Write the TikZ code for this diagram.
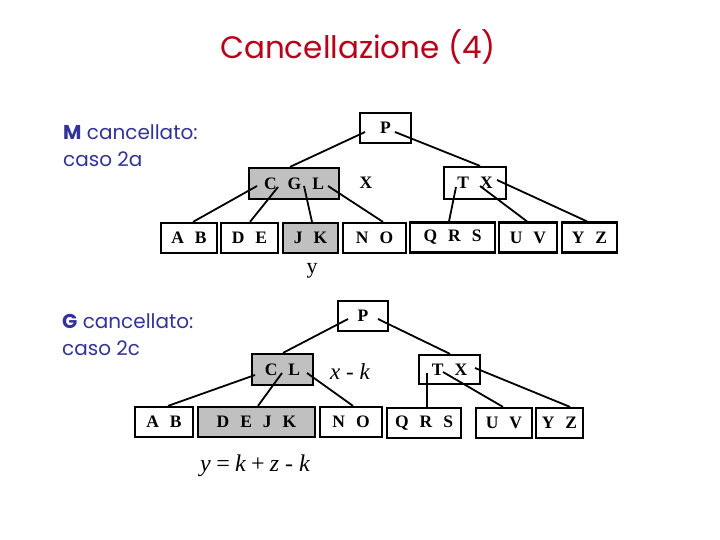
\documentclass[tikz,border=0pt]{standalone}
\usepackage{fontspec}
\setmainfont{Liberation Serif}
\newfontfamily\comic{Poppins}
\usetikzlibrary{calc}
\definecolor{titlered}{RGB}{185,0,25}
\definecolor{navy}{RGB}{51,51,153}
\definecolor{boxgray}{RGB}{192,192,192}
\newcommand{\gp}{\hspace{11pt}}
\begin{document}
\begin{tikzpicture}[x=1pt,y=-1pt,
  key/.style={draw,line width=2.2pt,minimum height=30pt,inner sep=0pt,font=\fontsize{17.5}{17.5}\selectfont\bfseries},
  hl/.style={key,fill=boxgray},
  edge/.style={line width=1.8pt},
  note/.style={font=\comic\fontsize{20}{27}\selectfont,text=navy,align=left,anchor=north west,inner sep=0pt},
  lbl/.style={inner sep=0pt}]
\useasboundingbox (0,0) rectangle (720,540);
\fill[white] (0,0) rectangle (720,540);

% title and notes
\node[lbl,font=\comic\fontsize{31}{34}\selectfont,text=titlered] (title) at (358,47) {Cancellazione (4)};
\node[note] (n1) at (63,125) {{\bfseries M} cancellato:\\caso 2a};
\node[note] (n2) at (62,313) {{\bfseries G} cancellato:\\caso 2c};

% top tree
\node[key,minimum width=51pt] (P) at (385.5,128) {P};
\node[hl,minimum width=90pt,minimum height=31pt] (CGL) at (294,183.5) {C\gp G\gp L};
\node[key,minimum width=62pt,minimum height=32pt] (TX) at (475,183) {T\gp X};
\node[key,minimum width=56pt] (AB) at (189,238) {A\gp B};
\node[key,minimum width=57pt] (DE) at (249.5,238) {D\gp E};
\node[hl,minimum width=55pt] (JK) at (310.5,238) {J\gp K};
\node[key,minimum width=63pt] (NO) at (374.5,238) {N\gp O};
\node[key,minimum width=85pt] (QRS) at (452.5,237.5) {Q\gp R\gp S};
\node[key,minimum width=58pt] (UV) at (528,237.5) {U\gp V};
\node[key,minimum width=55pt] (YZ) at (589.5,237.5) {Y\gp Z};
\node[lbl,font=\fontsize{17.5}{17.5}\selectfont\bfseries] (xl) at (366,183) {X};
\node[lbl,font=\fontsize{22}{22}\selectfont] (yl) at (312,271) {y};

\draw[edge] ([shift={(-20.5,4)}]P.center) -- ([xshift=-4pt]CGL.north);
\draw[edge] ([shift={(9.5,4)}]P.center) -- ([xshift=5pt]TX.north);
\draw[edge] ([shift={(-37,2.5)}]CGL.center) -- ([xshift=4pt]AB.north);
\draw[edge] ([shift={(-16,3.5)}]CGL.center) -- ([xshift=0.5pt]DE.north);
\draw[edge] ([shift={(10,2.5)}]CGL.center) -- ([xshift=1.5pt]JK.north);
\draw[edge] ([shift={(34,2.5)}]CGL.center) -- ([xshift=8.5pt]NO.north);
\draw[edge] ([shift={(-19,4)}]TX.center) -- ([xshift=-3.5pt]QRS.north);
\draw[edge] ([shift={(5,3)}]TX.center) -- ([xshift=-1pt]UV.north);
\draw[edge] ([shift={(22,-3)}]TX.center) -- ([xshift=-2.5pt]YZ.north);

% bottom tree
\node[key,minimum width=50pt] (P2) at (363,316) {P};
\node[hl,minimum width=61pt,minimum height=31pt] (CL) at (282.5,369.5) {C\gp L};
\node[key,minimum width=61pt,minimum height=29pt] (TX2) at (449.5,369.5) {T\gp X};
\node[key,minimum width=58pt] (AB2) at (164,422) {A\gp B};
\node[hl,minimum width=117pt] (DEJK) at (256.5,422) {D\gp E\gp J\gp K};
\node[key,minimum width=62pt] (NO2) at (351,422) {N\gp O};
\node[key,minimum width=74pt] (QRS2) at (424,423) {Q\gp R\gp S};
\node[key,minimum width=56pt] (UV2) at (504,423) {U\gp V};
\node[key,minimum width=47pt] (YZ2) at (559.5,423) {Y\gp Z};
\node[lbl,font=\fontsize{23}{23}\selectfont\itshape] (xk) at (350,372) {x - k};
\node[lbl,font=\fontsize{24}{24}\selectfont\itshape] (yk) at (255,466) {y\,=\,k\,+\,z - k};

\draw[edge] ([shift={(-15,3)}]P2.center) -- ([xshift=0.5pt]CL.north);
\draw[edge] ([shift={(15,3)}]P2.center) -- ([xshift=0.5pt]TX2.north);
\draw[edge] ([shift={(-27.5,5.5)}]CL.center) -- ([xshift=4pt]AB2.north);
\draw[edge] ([shift={(-0.5,3.5)}]CL.center) -- ([xshift=1.5pt]DEJK.north);
\draw[edge] ([shift={(24.5,3.5)}]CL.center) -- ([xshift=2pt]NO2.north);
\draw[edge] ([shift={(-22.5,3.5)}]TX2.center) -- ([xshift=3pt]QRS2.north);
\draw[edge] ([shift={(-6.5,2.5)}]TX2.center) -- ([xshift=-1pt]UV2.north);
\draw[edge] ([shift={(25.5,-1.5)}]TX2.center) -- ([xshift=10.5pt]YZ2.north);
\end{tikzpicture}
\end{document}
